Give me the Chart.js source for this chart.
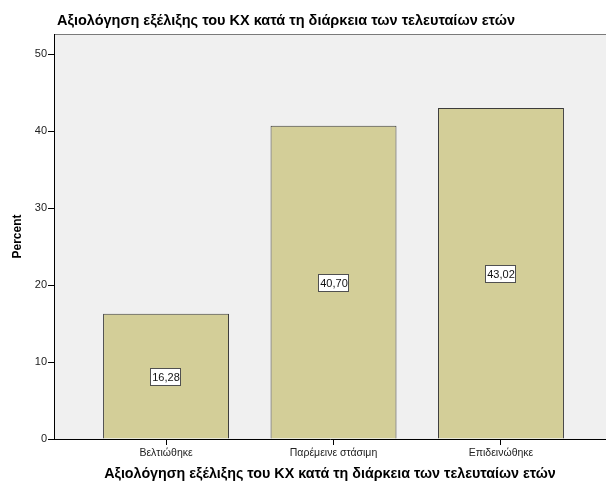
<!DOCTYPE html>
<html>
<head>
<meta charset="utf-8">
<script src="https://cdn.jsdelivr.net/npm/chart.js@4"></script>
<style>
  html, body { margin: 0; padding: 0; background: #ffffff; }
  #wrap { width: 606px; height: 488px; }
</style>
</head>
<body>
<div id="wrap"><canvas id="c" width="606" height="488"></canvas></div>
<script>
const chartTitle = "Αξιολόγηση εξέλιξης του ΚΧ κατά τη διάρκεια των τελευταίων ετών";
const xAxisTitle = "Αξιολόγηση εξέλιξης του ΚΧ κατά τη διάρκεια των τελευταίων ετών";
const yAxisTitle = "Percent";
const categories = ["Βελτιώθηκε", "Παρέμεινε στάσιμη", "Επιδεινώθηκε"];
const percentValues = [16.28, 40.70, 43.02];
const yTickValues = [0, 10, 20, 30, 40, 50];

const FONT = "'Liberation Sans', Arial, sans-serif";

const plotBgPlugin = {
  id: 'plotBg',
  beforeDraw(chart) {
    const {ctx, chartArea: a} = chart;
    ctx.save();
    ctx.fillStyle = '#F0F0F0';
    ctx.fillRect(a.left, a.top, a.right - a.left, a.bottom - a.top);
    ctx.strokeStyle = '#7a7a7a';
    ctx.lineWidth = 1;
    ctx.beginPath();
    ctx.moveTo(a.left, a.top + 0.5);
    ctx.lineTo(a.right, a.top + 0.5);
    ctx.stroke();
    ctx.restore();
  },
  afterDraw(chart) {
    const {ctx} = chart;
    ctx.save();
    ctx.fillStyle = '#000';
    ctx.font = "bold 14.5px " + FONT;
    ctx.textAlign = 'left';
    ctx.textBaseline = 'alphabetic';
    ctx.fillText(chartTitle, 57, 25);
    ctx.restore();
  }
};

const valueLabelPlugin = {
  id: 'valueLabels',
  afterDatasetsDraw(chart) {
    const {ctx} = chart;
    const meta = chart.getDatasetMeta(0);
    ctx.save();
    ctx.font = "11px " + FONT;
    ctx.textAlign = 'center';
    ctx.textBaseline = 'middle';
    meta.data.forEach((bar, i) => {
      const txt = percentValues[i].toFixed(2).replace('.', ',');
      const cx = Math.round(bar.x);
      const cy = Math.round((bar.y + bar.base) / 2) + 1;
      const w = 31, h = 18;
      const x0 = cx - Math.round(w / 2), y0 = cy - Math.round(h / 2);
      ctx.fillStyle = '#ffffff';
      ctx.fillRect(x0, y0, w, h);
      ctx.strokeStyle = '#505050';
      ctx.lineWidth = 1;
      ctx.strokeRect(x0 + 0.5, y0 + 0.5, w - 1, h - 1);
      ctx.fillStyle = '#111';
      ctx.fillText(txt, cx, cy + 1);
    });
    ctx.restore();
  }
};

new Chart(document.getElementById('c'), {
  type: 'bar',
  data: {
    datasets: [{
      data: percentValues.map((v, i) => ({x: i + 1, y: v})),
      backgroundColor: '#D3CE98',
      borderColor: '#3c3c3c',
      borderWidth: 1,
      borderSkipped: 'bottom',
      categoryPercentage: 1,
      barPercentage: 0.752
    }]
  },
  options: {
    responsive: false,
    animation: false,
    layout: { padding: { top: 34, left: 0, right: 0, bottom: 0 } },
    plugins: {
      legend: { display: false },
      tooltip: { enabled: false },
      title: { display: false }
    },
    scales: {
      x: {
        type: 'linear',
        offset: false,
        min: 0.331,
        max: 3.627,
        afterBuildTicks(scale) {
          scale.ticks = categories.map((c, i) => ({value: i + 1}));
        },
        afterFit(scale) { scale.height = 49; },
        ticks: {
          autoSkip: false,
          maxRotation: 0,
          padding: 2,
          color: '#222',
          font: { family: FONT, size: 10.5 },
          callback: (v) => categories[Math.round(v) - 1] || ''
        },
        grid: { offset: false, drawOnChartArea: false, drawTicks: true, tickLength: 6, color: '#000' },
        border: { display: true, color: '#000', width: 1 },
        title: {
          display: true,
          text: xAxisTitle,
          color: '#000',
          font: { family: FONT, size: 14.3, weight: 'bold' },
          padding: { top: 4, bottom: 5.5 }
        }
      },
      y: {
        type: 'linear',
        min: 0,
        max: 52.64,
        afterBuildTicks(scale) {
          scale.ticks = yTickValues.map(v => ({value: v}));
        },
        afterFit(scale) { scale.width = 54; },
        ticks: {
          padding: 1,
          color: '#222',
          font: { family: FONT, size: 11 }
        },
        grid: { drawOnChartArea: false, drawTicks: true, tickLength: 6, color: '#000' },
        border: { display: true, color: '#000', width: 1 },
        title: {
          display: true,
          text: yAxisTitle,
          color: '#000',
          font: { family: FONT, size: 12, weight: 'bold' },
          padding: { top: 10, bottom: 10 }
        }
      }
    }
  },
  plugins: [plotBgPlugin, valueLabelPlugin]
});
</script>
</body>
</html>
